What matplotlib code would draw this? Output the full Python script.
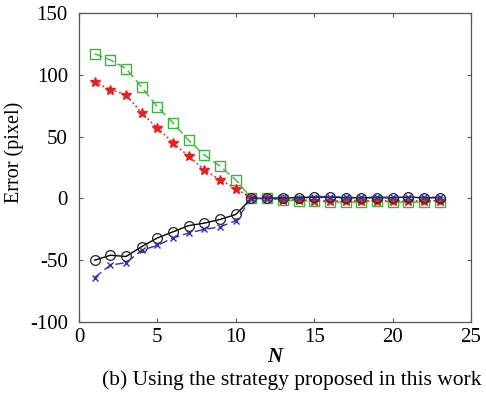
import matplotlib
matplotlib.use('Agg')
import matplotlib.pyplot as plt

N = list(range(1, 24))

err_square = [117, 112, 105, 90, 74, 61, 47, 35, 26, 15,
              0, 0, -1, -2, -2, -3, -3, -3, -2, -3, -3, -3, -3]
err_star = [94, 88, 84, 69, 57, 45, 34, 23, 15, 8,
            0, 0, -1, -1, -2, -2, -2, -2, -2, -2, -2, -2, -2]
err_circle = [-50, -46, -47, -39, -32, -27, -22, -20, -17, -13,
              0, 0, 0.5, 0.5, 1, 1, 0.5, 0.5, 0.5, 0.5, 1, 0.5, 0.5]
err_cross = [-64, -54, -52, -42, -38, -32, -28, -25, -23, -18,
             0, 0, 0.5, 0.5, 1.5, 1.5, 1, 1, 1, 1, 1, 1, 1]

x_ticks = [0, 5, 10, 15, 20, 25]
y_ticks = [-100, -50, 0, 50, 100, 150]

plt.rcParams['font.family'] = ['Liberation Serif', 'DejaVu Serif']
plt.rcParams['axes.unicode_minus'] = False

fig = plt.figure(figsize=(4.86, 3.95), dpi=100)
ax = fig.add_axes([79 / 486, 1 - 322 / 395, (471 - 79) / 486, (322 - 13) / 395])

ax.plot(N, err_square, color='#3cb43c', ls=(0, (6, 3)), lw=1.0,
        marker='s', ms=7, mfc='none', mec='#3cb43c', mew=1.0)
ax.plot(N, err_star, color='#e82020', ls=':', lw=1.2,
        marker='*', ms=7, mfc='#e82020', mec='#e82020')
ax.plot(N, err_circle, color='black', ls='-', lw=1.0,
        marker='o', ms=7, mfc='none', mec='#222222', mew=0.9)
ax.plot(N, err_cross, color='#3030b0', ls=(0, (6, 3)), lw=1.0,
        marker='x', ms=4, mec='#3030b0', mew=1.0)

ax.set_xlim(0, 25)
ax.set_ylim(-100, 150)
ax.set_xticks(x_ticks)
ax.set_yticks(y_ticks)
ax.tick_params(direction='in', top=True, right=True, length=3,
               labelsize=15, color='#555555')
ax.tick_params(axis='y', pad=8)
ax.tick_params(axis='x', pad=4)
for s in ax.spines.values():
    s.set_color('#555555')
    s.set_linewidth(0.9)

ax.set_ylabel('Error (pixel)', fontsize=14.5)
ax.yaxis.set_label_coords(-0.14, 0.55)
ax.set_xlabel('N', fontsize=15, style='italic', fontweight='bold', labelpad=0)
fig.text(481 / 486, 1 - 380 / 395, '(b) Using the strategy proposed in this work',
         ha='right', va='center', fontsize=15.5)

fig.savefig('out.png', dpi=100)
